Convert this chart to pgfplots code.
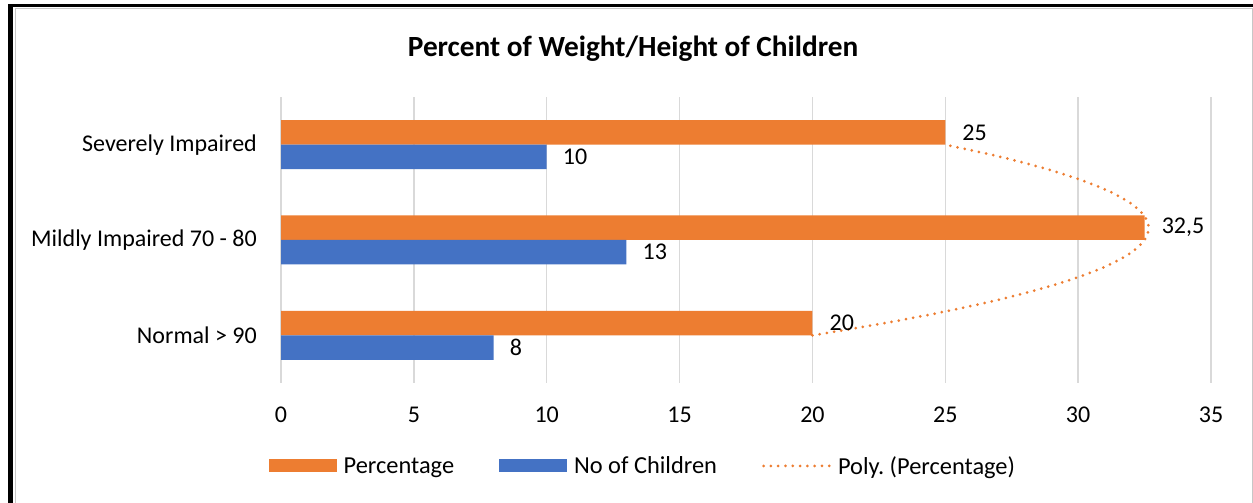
\documentclass[border=0pt]{standalone}
\usepackage{pgfplots}
\pgfplotsset{compat=1.18}
\usepackage{fontspec}
\setmainfont{Carlito}
\frenchspacing
\definecolor{orangeC}{HTML}{ED7D31}
\definecolor{blueC}{HTML}{4472C4}
\definecolor{gridC}{HTML}{D9D9D9}
\begin{document}
\begin{tikzpicture}
\useasboundingbox (0,0) rectangle (1253pt,503pt);
\fill[white] (0,0) rectangle (1253pt,503pt);
\draw[gridC!80!gray, line width=1pt] (15.5pt,0) -- (15.5pt,494.5pt) -- (1252pt,494.5pt) -- (1252pt,0);
\draw[black, line width=5pt] (10.8pt,0) -- (10.8pt,497.3pt);
\draw[black, line width=3.5pt] (8.3pt,497.3pt) -- (1253pt,497.3pt);
\begin{axis}[
  at={(281pt,120pt)}, anchor=south west,
  scale only axis, width=930pt, height=286pt,
  xmin=0, xmax=35, ymin=-0.5, ymax=2.5,
  xtick={0,5,...,35}, ytick={0,1,2},
  yticklabels={Normal > 90, Mildly Impaired 70 - 80, Severely Impaired},
  axis line style={draw=none}, major tick length=0pt,
  xmajorgrids, grid style={gridC, line width=1.5pt},
  /pgf/number format/assume math mode=true,
  tick label style={font=\fontsize{24}{28}\selectfont, inner sep=0pt},
  xticklabel style={anchor=north, yshift=-24pt},
  yticklabel style={anchor=east, xshift=-24pt},
  title={\textbf{Percent of Weight/Height of Children}},
  title style={font=\fontsize{29.3}{34}\selectfont, at={(0.3786,1.148)}, anchor=center, inner sep=0pt},
  clip=false,
  legend columns=3,
  legend style={draw=none, fill=none, at={(0.388,-0.290)}, anchor=center,
    font=\fontsize{24.4}{28}\selectfont,
    /tikz/every odd column/.append style={column sep=7pt},
    /tikz/every even column/.append style={column sep=45pt},
    nodes={inner sep=0pt, anchor=west}},
]
\addplot[xbar, fill=orangeC, draw=none, bar width=24.5pt, bar shift=12.25pt,
  nodes near coords, point meta=explicit symbolic,
  nodes near coords style={anchor=west, inner sep=0pt, xshift=17pt, yshift=12.25pt, font=\fontsize{24}{28}\selectfont, text=black},
  legend image code/.code={\fill[orangeC] (0pt,-6.5pt) rectangle (68pt,6.5pt);}]
  coordinates {(20,0) [20] (32.5,1) [{32,5}] (25,2) [25]};
\addlegendentry{Percentage}
\addplot[xbar, fill=blueC, draw=none, bar width=24.5pt, bar shift=-12.25pt,
  nodes near coords, point meta=explicit symbolic,
  nodes near coords style={anchor=west, inner sep=0pt, xshift=16pt, yshift=-12.25pt, font=\fontsize{24}{28}\selectfont, text=black},
  legend image code/.code={\fill[blueC] (0pt,-6.5pt) rectangle (68pt,6.5pt);}]
  coordinates {(8,0) [8] (13,1) [13] (10,2) [10]};
\addlegendentry{No of Children}
\addplot[orangeC, smooth, line width=3pt, line cap=round, dash pattern=on 0pt off 7.3pt,
  legend image code/.code={\draw[orangeC, line width=3pt, line cap=round, dash pattern=on 0pt off 7.3pt] (0pt,0pt) -- (66pt,0pt);}]
  coordinates {(20,0) (22.656,0.125) (25.0,0.25) (27.031,0.375) (28.75,0.5) (30.156,0.625)
  (31.25,0.75) (32.031,0.875) (32.5,1.0) (32.656,1.125) (32.5,1.25) (32.031,1.375)
  (31.25,1.5) (30.156,1.625) (28.75,1.75) (27.031,1.875) (25,2)};
\addlegendentry{Poly. (Percentage)}
\end{axis}
\end{tikzpicture}
\end{document}
